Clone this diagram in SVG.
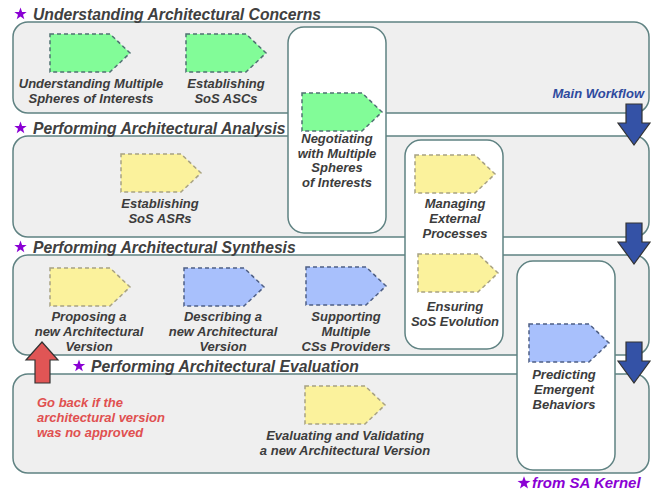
<svg xmlns="http://www.w3.org/2000/svg" xmlns:xlink="http://www.w3.org/1999/xlink" width="657" height="491" viewBox="0 0 657 491">
  <style>
    .lane { fill: #efefef; stroke: #5f8282; stroke-width: 1.5; }
    .col { fill: #ffffff; stroke: #5f8282; stroke-width: 1.5; }
    .title { font-family: "Liberation Sans", Arial, sans-serif; font-weight: bold; font-style: italic; font-size: 15.7px; fill: #404040; }
    .lbl { font-family: "Liberation Sans", Arial, sans-serif; font-weight: bold; font-style: italic; font-size: 13px; fill: #3c3c3c; text-anchor: middle; }
    .note { font-family: "Liberation Sans", Arial, sans-serif; font-weight: bold; font-style: italic; font-size: 13px; }
    .star { fill: #8a00d4; }
    .green { fill: #82fc98; stroke: #4f7272; stroke-width: 1.5; stroke-dasharray: 4 3; }
    .yellow { fill: #fbf29c; stroke: #a8a282; stroke-width: 1.5; stroke-dasharray: 4 3; }
    .blue { fill: #a8c0fc; stroke: #4e5f85; stroke-width: 1.5; stroke-dasharray: 4 3; }
    .down { fill: #3452a6; stroke: #333333; stroke-width: 1.2; }
    .up { fill: #e05555; stroke: #333333; stroke-width: 1.2; }
  </style>
  <defs>
    <path id="pent" d="M0,0 H60 L80,19 L60,38 H0 Z"/>
    <polygon id="star" points="0,-6.5 1.6,-2.1 6.2,-2 2.5,0.8 3.8,5.3 0,2.6 -3.8,5.3 -2.5,0.8 -6.2,-2 -1.6,-2.1"/>
    <path id="downArrow" d="M8,0 H24 V19 H32 L16,41 L0,19 H8 Z"/>
  </defs>

  <rect width="657" height="491" fill="#ffffff"/>

  <!-- swimlanes -->
  <g id="lanes">
    <g id="lane-concerns">
      <rect class="lane" x="13" y="22" width="636" height="91" rx="15"/>
      <use href="#star" class="star" x="20.5" y="14"/>
      <text class="title" x="33" y="20">Understanding Architectural Concerns</text>
    </g>
    <g id="lane-analysis">
      <rect class="lane" x="13" y="136" width="636" height="101" rx="15"/>
      <use href="#star" class="star" x="20.5" y="128"/>
      <text class="title" x="33" y="134">Performing Architectural Analysis</text>
    </g>
    <g id="lane-synthesis">
      <rect class="lane" x="13" y="255" width="636" height="100" rx="15"/>
      <use href="#star" class="star" x="20.5" y="247"/>
      <text class="title" x="33" y="253">Performing Architectural Synthesis</text>
    </g>
    <g id="lane-evaluation">
      <rect class="lane" x="13" y="374" width="636" height="99" rx="15"/>
      <use href="#star" class="star" x="79" y="366"/>
      <text class="title" x="91" y="372">Performing Architectural Evaluation</text>
    </g>
  </g>

  <!-- cross-lane columns -->
  <g id="col-negotiating">
    <rect class="col" x="288" y="27" width="98" height="206" rx="16"/>
  </g>
  <g id="col-external">
    <rect class="col" x="405" y="140" width="98" height="209" rx="16"/>
  </g>
  <g id="col-emergent">
    <rect class="col" x="517" y="261" width="98" height="209" rx="16"/>
  </g>

  <!-- activities -->
  <g id="n-multiple-spheres">
    <use href="#pent" class="green" x="50" y="34"/>
    <text class="lbl" x="91" y="88">Understanding Multiple</text>
    <text class="lbl" x="91" y="103">Spheres of Interests</text>
  </g>
  <g id="n-sos-ascs">
    <use href="#pent" class="green" x="186" y="34"/>
    <text class="lbl" x="226" y="88">Establishing</text>
    <text class="lbl" x="226" y="103">SoS ASCs</text>
  </g>
  <g id="n-negotiating">
    <use href="#pent" class="green" x="302" y="93"/>
    <text class="lbl" x="337" y="143">Negotiating</text>
    <text class="lbl" x="337" y="158">with Multiple</text>
    <text class="lbl" x="337" y="172">Spheres</text>
    <text class="lbl" x="337" y="187">of Interests</text>
  </g>
  <g id="n-sos-asrs">
    <use href="#pent" class="yellow" x="121" y="154"/>
    <text class="lbl" x="160" y="208">Establishing</text>
    <text class="lbl" x="160" y="223">SoS ASRs</text>
  </g>
  <g id="n-external-processes">
    <use href="#pent" class="yellow" x="415" y="155"/>
    <text class="lbl" x="455" y="208">Managing</text>
    <text class="lbl" x="455" y="223">External</text>
    <text class="lbl" x="455" y="238">Processes</text>
  </g>
  <g id="n-proposing">
    <use href="#pent" class="yellow" x="50" y="268"/>
    <text class="lbl" x="89" y="321">Proposing a</text>
    <text class="lbl" x="89" y="336">new Architectural</text>
    <text class="lbl" x="89" y="351">Version</text>
  </g>
  <g id="n-describing">
    <use href="#pent" class="blue" x="184" y="268"/>
    <text class="lbl" x="223" y="321">Describing a</text>
    <text class="lbl" x="223" y="336">new Architectural</text>
    <text class="lbl" x="223" y="351">Version</text>
  </g>
  <g id="n-supporting">
    <use href="#pent" class="blue" x="306" y="267"/>
    <text class="lbl" x="346" y="321">Supporting</text>
    <text class="lbl" x="346" y="336">Multiple</text>
    <text class="lbl" x="346" y="351">CSs Providers</text>
  </g>
  <g id="n-evolution">
    <use href="#pent" class="yellow" x="418" y="254"/>
    <text class="lbl" x="455" y="311">Ensuring</text>
    <text class="lbl" x="455" y="326">SoS Evolution</text>
  </g>
  <g id="n-emergent">
    <use href="#pent" class="blue" x="529" y="324"/>
    <text class="lbl" x="564" y="379">Predicting</text>
    <text class="lbl" x="564" y="394">Emergent</text>
    <text class="lbl" x="564" y="409">Behaviors</text>
  </g>
  <g id="n-evaluating">
    <use href="#pent" class="yellow" x="305" y="386"/>
    <text class="lbl" x="345" y="440">Evaluating and Validating</text>
    <text class="lbl" x="345" y="455">a new Architectural Version</text>
  </g>

  <!-- workflow arrows -->
  <g id="connectors">
    <use href="#downArrow" class="down" x="618" y="104"/>
    <use href="#downArrow" class="down" x="618" y="223"/>
    <use href="#downArrow" class="down" x="618" y="342"/>
    <path class="up" d="M35,383 V360 H26 L42,342 L58,360 H50 V383 Z"/>
    <text class="note" x="644" y="98" text-anchor="end" fill="#2e4a9e">Main Workflow</text>
    <text class="note" fill="#e05050">
      <tspan x="37" y="407">Go back if the</tspan>
      <tspan x="37" y="422">architectural version</tspan>
      <tspan x="37" y="437">was no approved</tspan>
    </text>
  </g>

  <!-- legend -->
  <g id="legend">
    <use href="#star" class="star" x="524" y="483" transform="translate(524 483) scale(1.05) translate(-524 -483)"/>
    <text class="note" x="532" y="488" fill="#8a00d4" style="font-size:15px">from SA Kernel</text>
  </g>
</svg>
